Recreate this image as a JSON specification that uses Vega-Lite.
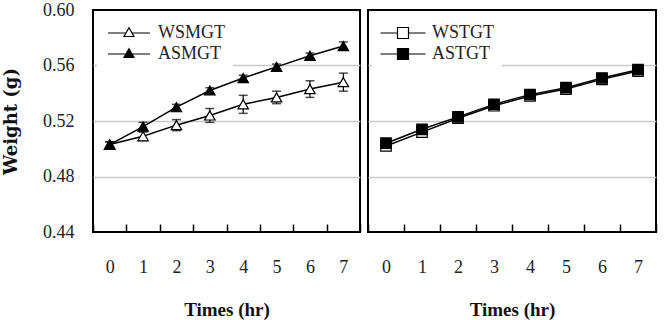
{
  "$schema": "https://vega.github.io/schema/vega-lite/v6.json",
  "background": "white",
  "padding": {"left": 1, "top": 0, "right": 5, "bottom": 0},
  "datasets": {
    "smgt": [
      {"s": "WSMGT", "t": 0, "w": 0.503, "e": 0.002},
      {"s": "WSMGT", "t": 1, "w": 0.509, "e": 0.003},
      {"s": "WSMGT", "t": 2, "w": 0.517, "e": 0.004},
      {"s": "WSMGT", "t": 3, "w": 0.524, "e": 0.005},
      {"s": "WSMGT", "t": 4, "w": 0.532, "e": 0.0065},
      {"s": "WSMGT", "t": 5, "w": 0.537, "e": 0.0045},
      {"s": "WSMGT", "t": 6, "w": 0.543, "e": 0.006},
      {"s": "WSMGT", "t": 7, "w": 0.548, "e": 0.0065},
      {"s": "ASMGT", "t": 0, "w": 0.503, "e": 0.002},
      {"s": "ASMGT", "t": 1, "w": 0.516, "e": 0.003},
      {"s": "ASMGT", "t": 2, "w": 0.530, "e": 0.002},
      {"s": "ASMGT", "t": 3, "w": 0.542, "e": 0.002},
      {"s": "ASMGT", "t": 4, "w": 0.551, "e": 0.002},
      {"s": "ASMGT", "t": 5, "w": 0.559, "e": 0.002},
      {"s": "ASMGT", "t": 6, "w": 0.567, "e": 0.002},
      {"s": "ASMGT", "t": 7, "w": 0.574, "e": 0.003}
    ],
    "stgt": [
      {"s": "WSTGT", "t": 0, "w": 0.502, "e": 0.002},
      {"s": "WSTGT", "t": 1, "w": 0.512, "e": 0.002},
      {"s": "WSTGT", "t": 2, "w": 0.522, "e": 0.002},
      {"s": "WSTGT", "t": 3, "w": 0.531, "e": 0.002},
      {"s": "WSTGT", "t": 4, "w": 0.538, "e": 0.002},
      {"s": "WSTGT", "t": 5, "w": 0.543, "e": 0.002},
      {"s": "WSTGT", "t": 6, "w": 0.550, "e": 0.002},
      {"s": "WSTGT", "t": 7, "w": 0.556, "e": 0.002},
      {"s": "ASTGT", "t": 0, "w": 0.504, "e": 0.002},
      {"s": "ASTGT", "t": 1, "w": 0.514, "e": 0.002},
      {"s": "ASTGT", "t": 2, "w": 0.523, "e": 0.002},
      {"s": "ASTGT", "t": 3, "w": 0.532, "e": 0.002},
      {"s": "ASTGT", "t": 4, "w": 0.539, "e": 0.002},
      {"s": "ASTGT", "t": 5, "w": 0.544, "e": 0.002},
      {"s": "ASTGT", "t": 6, "w": 0.551, "e": 0.002},
      {"s": "ASTGT", "t": 7, "w": 0.557, "e": 0.002}
    ]
  },
  "config": {
    "font": "Liberation Serif",
    "view": {"stroke": "black", "strokeWidth": 2},
    "axis": {
      "labelFont": "Liberation Serif",
      "labelFontSize": 18,
      "labelColor": "#222",
      "titleFont": "Liberation Serif",
      "titleFontSize": 19,
      "titleFontWeight": "bold",
      "titleColor": "#111",
      "gridColor": "#c8c8c8",
      "gridWidth": 1.5
    },
    "legend": {
      "labelFont": "Liberation Serif",
      "labelFontSize": 18,
      "labelColor": "#222",
      "fillColor": "white",
      "padding": 8,
      "rowPadding": 3
    }
  },
  "spacing": 4,
  "resolve": {
    "scale": {"fill": "independent", "y": "independent", "x": "independent"},
    "legend": {"fill": "independent"}
  },
  "hconcat": [
    {
      "width": 267,
      "height": 222,
      "data": {"name": "smgt"},
      "encoding": {
        "x": {
          "field": "t",
          "type": "ordinal",
          "bandPosition": 0.5,
          "scale": {"type": "band", "paddingInner": 0, "paddingOuter": 0},
          "axis": {
            "title": "Times (hr)",
            "labelAngle": 0,
            "domain": false,
            "grid": false,
            "tickBand": "extent",
            "tickSize": -8,
            "tickColor": "black",
            "tickWidth": 1.5,
            "labelPadding": 34,
            "titlePadding": 24
          }
        },
        "y": {
          "field": "w",
          "type": "quantitative",
          "scale": {"domain": [0.44, 0.6], "zero": false, "nice": false},
          "axis": {
            "title": "Weight (g)",
            "titleFont": "DejaVu Serif",
            "titleFontSize": 18,
            "values": [0.44, 0.48, 0.52, 0.56, 0.6],
            "format": ".2f",
            "domain": false,
            "ticks": false,
            "labelPadding": 19,
            "titlePadding": 22,
            "gridOpacity": {"condition": {"test": "datum.value < 0.45 || datum.value > 0.59", "value": 0}, "value": 1}
          }
        }
      },
      "layer": [
        {
          "mark": {"type": "errorbar", "color": "black", "thickness": 1.2, "ticks": {"size": 9, "color": "black", "thickness": 1.5}},
          "encoding": {"yError": {"field": "e"}, "detail": {"field": "s"}}
        },
        {
          "mark": {"type": "line", "color": "black", "strokeWidth": 1.5},
          "encoding": {"detail": {"field": "s"}}
        },
        {
          "mark": {"type": "point", "shape": "triangle-up", "size": 110, "filled": true, "stroke": "black", "strokeWidth": 1.2, "opacity": 1},
          "encoding": {
            "fill": {
              "field": "s",
              "type": "nominal",
              "scale": {"domain": ["WSMGT", "ASMGT"], "range": ["white", "black"]},
              "legend": {
                "title": null,
                "orient": "none",
                "legendX": 4,
                "legendY": 6,
                "symbolType": "M-4.2,0H-0.6M0.6,0H4.2M0,-1.05L1,0.7L-1,0.7Z",
                "symbolSize": 100,
                "symbolOffset": 15,
                "symbolStrokeColor": "black",
                "symbolStrokeWidth": 1.2,
                "symbolOpacity": 1,
                "labelOffset": 20
              }
            }
          }
        }
      ]
    },
    {
      "width": 288,
      "height": 222,
      "data": {"name": "stgt"},
      "encoding": {
        "x": {
          "field": "t",
          "type": "ordinal",
          "bandPosition": 0.5,
          "scale": {"type": "band", "paddingInner": 0, "paddingOuter": 0},
          "axis": {
            "title": "Times (hr)",
            "labelAngle": 0,
            "domain": false,
            "grid": false,
            "tickBand": "extent",
            "tickSize": -8,
            "tickColor": "black",
            "tickWidth": 1.5,
            "labelPadding": 34,
            "titlePadding": 24
          }
        },
        "y": {
          "field": "w",
          "type": "quantitative",
          "scale": {"domain": [0.44, 0.6], "zero": false, "nice": false},
          "axis": {
            "title": null,
            "values": [0.48, 0.52, 0.56],
            "labels": false,
            "domain": false,
            "ticks": false
          }
        }
      },
      "layer": [
        {
          "mark": {"type": "errorbar", "color": "black", "thickness": 1.2, "ticks": {"size": 9, "color": "black", "thickness": 1.5}},
          "encoding": {"yError": {"field": "e"}, "detail": {"field": "s"}}
        },
        {
          "mark": {"type": "line", "color": "black", "strokeWidth": 1.5},
          "encoding": {"detail": {"field": "s"}}
        },
        {
          "mark": {"type": "point", "shape": "square", "size": 110, "filled": true, "stroke": "black", "strokeWidth": 1.2, "opacity": 1},
          "encoding": {
            "fill": {
              "field": "s",
              "type": "nominal",
              "scale": {"domain": ["WSTGT", "ASTGT"], "range": ["white", "black"]},
              "legend": {
                "title": null,
                "orient": "none",
                "legendX": 4,
                "legendY": 6,
                "symbolType": "M-4.1,0H-1M1,0H4.1M-1,-1H1V1H-1Z",
                "symbolSize": 121,
                "symbolOffset": 14,
                "symbolStrokeColor": "black",
                "symbolStrokeWidth": 1.2,
                "symbolOpacity": 1,
                "labelOffset": 20
              }
            }
          }
        }
      ]
    }
  ]
}
